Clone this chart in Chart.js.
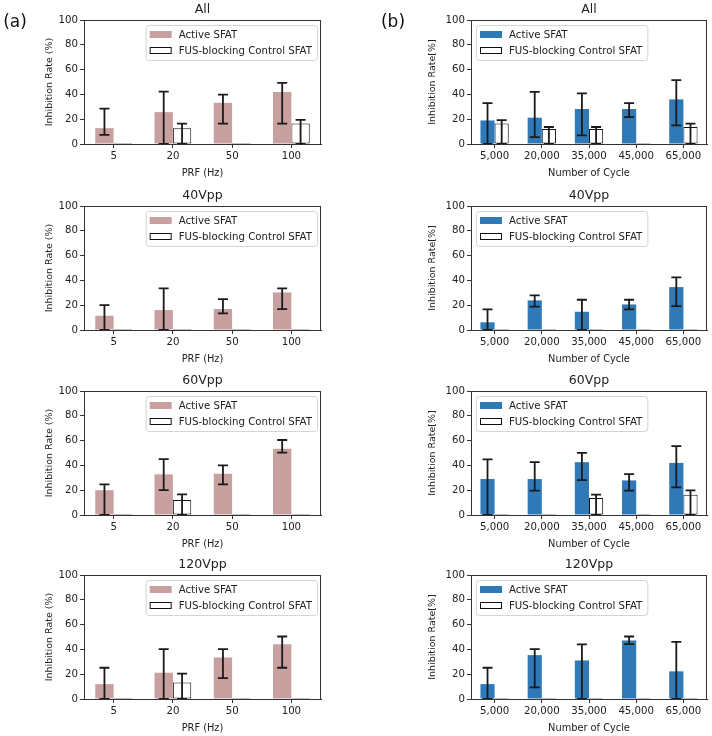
<!DOCTYPE html>
<html>
<head>
<meta charset="utf-8">
<script src="https://cdn.jsdelivr.net/npm/chart.js@4.4.0/dist/chart.umd.min.js"></script>
<style>
html, body { margin: 0; padding: 0; background: #fff; }
#wrap { position: relative; width: 712px; height: 736px; }
canvas { position: absolute; }
</style>
</head>
<body>
<div id="wrap"></div>
<script>
// categories / ticks
const prfLabels = ['5', '20', '50', '100'];
const cycleLabels = ['5,000', '20,000', '35,000', '45,000', '65,000'];
const panelTitles = ['All', '40Vpp', '60Vpp', '120Vpp'];
const yTicks = [0, 20, 40, 60, 80, 100];

// (a) PRF panels
const prfAllActive = [12.8, 25.7, 33.2, 42.0];
const prfAllActiveLo = [7.3, 0, 16.4, 16.4];
const prfAllActiveHi = [28.5, 42.3, 39.8, 49.3];
const prfAllControl = [0, 12.8, 0, 16.5];
const prfAllControlLo = [null, 0, null, 0];
const prfAllControlHi = [null, 16.4, null, 19.4];

const prf40Active = [11.5, 16.1, 16.9, 30.3];
const prf40ActiveLo = [0, 0, 13.4, 16.9];
const prf40ActiveHi = [20.1, 33.5, 24.9, 33.5];
const prf40Control = [0, 0, 0, 0];

const prf60Active = [20.0, 32.8, 33.3, 53.5];
const prf60ActiveLo = [0, 20.0, 24.7, 50.3];
const prf60ActiveHi = [24.7, 45.0, 40.0, 60.5];
const prf60Control = [0, 12.0, 0, 0];
const prf60ControlLo = [null, 0, null, null];
const prf60ControlHi = [null, 16.7, null, null];

const prf120Active = [12.0, 21.2, 33.5, 44.2];
const prf120ActiveLo = [0, 0, 16.9, 25.2];
const prf120ActiveHi = [25.2, 40.2, 40.2, 50.4];
const prf120Control = [0, 13.4, 0, 0];
const prf120ControlLo = [null, 0, null, null];
const prf120ControlHi = [null, 20.4, null, null];

// (b) cycle panels
const cycAllActive = [19.0, 21.2, 28.2, 28.2, 36.0];
const cycAllActiveLo = [0, 5.6, 7.0, 21.7, 15.0];
const cycAllActiveHi = [33.0, 42.0, 40.8, 33.0, 51.5];
const cycAllControl = [16.6, 12.0, 12.0, 0, 13.7];
const cycAllControlLo = [0, 0, 0, null, 0];
const cycAllControlHi = [19.3, 13.7, 13.7, null, 16.4];

const cyc40Active = [6.2, 23.9, 14.7, 20.6, 34.6];
const cyc40ActiveLo = [0, 18.8, 0, 16.6, 19.3];
const cyc40ActiveHi = [16.6, 27.9, 24.4, 24.4, 42.4];
const cyc40Control = [0, 0, 0, 0, 0];

const cyc60Active = [29.0, 29.0, 42.6, 27.9, 42.0];
const cyc60ActiveLo = [0, 19.6, 28.2, 19.6, 22.3];
const cyc60ActiveHi = [44.8, 42.6, 50.1, 33.0, 55.5];
const cyc60Control = [0, 0, 13.7, 0, 16.4];
const cyc60ControlLo = [null, null, 0, null, 0];
const cyc60ControlHi = [null, null, 16.4, null, 19.8];

const cyc120Active = [12.0, 35.4, 31.1, 47.2, 22.3];
const cyc120ActiveLo = [0, 9.4, 0, 44.2, 0];
const cyc120ActiveHi = [25.2, 40.2, 44.0, 50.4, 46.1];
const cyc120Control = [0, 0, 0, 0, 0];

const FONT = '"DejaVu Sans", sans-serif';
const TXT = '#222';
const rowTops = [0, 186, 371, 555];

// error bars, box frame, inside legend, panel letter
const decor = {
    id: 'decor',
    afterDatasetsDraw(chart) {
        const ctx = chart.ctx;
        const ys = chart.scales.y;
        ctx.save();
        ctx.strokeStyle = '#1a1a1a';
        ctx.lineWidth = 1.8;
        chart.data.datasets.forEach((ds, di) => {
            if (!ds.errHi) return;
            const meta = chart.getDatasetMeta(di);
            meta.data.forEach((bar, i) => {
                if (ds.errHi[i] == null) return;
                const x = bar.x;
                const yt = ys.getPixelForValue(ds.errHi[i]);
                const yb = ys.getPixelForValue(ds.errLo[i]);
                ctx.beginPath();
                ctx.moveTo(x, yt); ctx.lineTo(x, yb);
                ctx.moveTo(x - 5, yt); ctx.lineTo(x + 5, yt);
                ctx.moveTo(x - 5, yb); ctx.lineTo(x + 5, yb);
                ctx.stroke();
            });
        });
        ctx.restore();
    },
    afterDraw(chart, args, opts) {
        const ctx = chart.ctx;
        const a = chart.chartArea;
        ctx.save();
        // axes frame
        ctx.strokeStyle = '#333';
        ctx.lineWidth = 1;
        ctx.strokeRect(Math.round(a.left) + 0.5, Math.round(a.top) + 0.5,
            Math.round(a.right - a.left) - 1, Math.round(a.bottom - a.top));

        // legend
        const names = chart.data.datasets.map(d => d.label);
        ctx.font = '10.2px ' + FONT;
        const textW = Math.max(...names.map(n => ctx.measureText(n).width));
        const patchW = 22, patchH = 7;
        const boxW = 4 + patchW + 7 + textW + 5;
        const boxH = 35;
        const bx = opts.side === 'right' ? a.right - 4 - boxW : a.left + 5;
        const by = a.top + 5;
        ctx.beginPath();
        ctx.roundRect(bx + 0.5, by + 0.5, boxW, boxH, 3);
        ctx.fillStyle = 'rgba(255,255,255,0.85)';
        ctx.fill();
        ctx.strokeStyle = '#d4d4d4';
        ctx.stroke();
        names.forEach((n, i) => {
            const cy = by + 9.5 + i * 16;
            const ds = chart.data.datasets[i];
            ctx.fillStyle = ds.backgroundColor;
            ctx.fillRect(bx + 4, cy - patchH / 2, patchW, patchH);
            if (ds.borderWidth) {
                ctx.strokeStyle = '#111';
                ctx.lineWidth = 1;
                ctx.strokeRect(bx + 4.5, cy - patchH / 2 + 0.5, patchW - 1, patchH - 1);
            }
            ctx.fillStyle = TXT;
            ctx.textBaseline = 'middle';
            ctx.textAlign = 'left';
            ctx.fillText(n, bx + 4 + patchW + 7, cy + 0.5);
        });

        // panel letter
        if (opts.letter) {
            ctx.font = '17px ' + FONT;
            ctx.fillStyle = '#111';
            ctx.textAlign = 'center';
            ctx.textBaseline = 'middle';
            ctx.fillText(opts.letter, opts.letterX, 23);
        }
        ctx.restore();
    }
};

function makePanel(col, row, labels, active, activeLo, activeHi, control, controlLo, controlHi) {
    const isA = col === 0;
    const cv = document.createElement('canvas');
    cv.width = 356;
    cv.height = 180;
    cv.style.left = (col * 356) + 'px';
    cv.style.top = rowTops[row] + 'px';
    document.getElementById('wrap').appendChild(cv);

    const axisGrid = { offset: false, drawOnChartArea: false, drawTicks: true, tickLength: 4, color: '#333' };

    new Chart(cv, {
        type: 'bar',
        data: {
            labels: labels,
            datasets: [{
                label: 'Active SFAT',
                data: active,
                backgroundColor: isA ? '#c9a0a0' : '#2f79b7',
                borderWidth: 0,
                errLo: activeLo,
                errHi: activeHi
            }, {
                label: 'FUS-blocking Control SFAT',
                data: control,
                backgroundColor: '#ffffff',
                borderColor: '#111',
                borderWidth: 1,
                borderSkipped: false,
                minBarLength: 1,
                errLo: controlLo,
                errHi: controlHi
            }]
        },
        options: {
            responsive: false,
            animation: false,
            devicePixelRatio: 1,
            layout: { padding: { left: isA ? 44 : 71, right: isA ? 35 : 5, top: 0, bottom: 0 } },
            datasets: { bar: { categoryPercentage: isA ? 0.62 : 0.6, barPercentage: 1 } },
            plugins: {
                legend: { display: false },
                tooltip: { enabled: false },
                title: {
                    display: true,
                    text: panelTitles[row],
                    fullSize: false,
                    color: TXT,
                    font: { family: FONT, size: 12.5, weight: 'normal', lineHeight: 1.2 },
                    padding: { top: 2, bottom: 3 }
                },
                decor: {
                    side: isA ? 'right' : 'left',
                    letter: row === 0 ? (isA ? '(a)' : '(b)') : null,
                    letterX: isA ? 15 : 37
                }
            },
            scales: {
                x: {
                    grid: axisGrid,
                    border: { color: '#333' },
                    ticks: { color: TXT, font: { family: FONT, size: 10.2 }, padding: 2, maxRotation: 0, autoSkip: false },
                    title: {
                        display: true,
                        text: isA ? 'PRF (Hz)' : 'Number of Cycle',
                        color: TXT,
                        font: { family: FONT, size: 9.8 },
                        padding: { top: 0, bottom: 1 }
                    },
                    afterFit(s) { s.height = 36; }
                },
                y: {
                    min: 0,
                    max: 100,
                    afterBuildTicks(s) { s.ticks = yTicks.map(v => ({ value: v })); },
                    grid: axisGrid,
                    border: { color: '#333' },
                    ticks: { color: TXT, font: { family: FONT, size: 10.2 }, padding: 2 },
                    title: {
                        display: true,
                        text: isA ? 'Inhibition Rate (%)' : 'Inhibition Rate[%]',
                        color: TXT,
                        font: { family: FONT, size: 9.5 },
                        padding: 0
                    },
                    afterFit(s) { s.width = isA ? 40 : 44; }
                }
            }
        },
        plugins: [decor]
    });
}

makePanel(0, 0, prfLabels, prfAllActive, prfAllActiveLo, prfAllActiveHi, prfAllControl, prfAllControlLo, prfAllControlHi);
makePanel(0, 1, prfLabels, prf40Active, prf40ActiveLo, prf40ActiveHi, prf40Control, null, null);
makePanel(0, 2, prfLabels, prf60Active, prf60ActiveLo, prf60ActiveHi, prf60Control, prf60ControlLo, prf60ControlHi);
makePanel(0, 3, prfLabels, prf120Active, prf120ActiveLo, prf120ActiveHi, prf120Control, prf120ControlLo, prf120ControlHi);

makePanel(1, 0, cycleLabels, cycAllActive, cycAllActiveLo, cycAllActiveHi, cycAllControl, cycAllControlLo, cycAllControlHi);
makePanel(1, 1, cycleLabels, cyc40Active, cyc40ActiveLo, cyc40ActiveHi, cyc40Control, null, null);
makePanel(1, 2, cycleLabels, cyc60Active, cyc60ActiveLo, cyc60ActiveHi, cyc60Control, cyc60ControlLo, cyc60ControlHi);
makePanel(1, 3, cycleLabels, cyc120Active, cyc120ActiveLo, cyc120ActiveHi, cyc120Control, null, null);
</script>
</body>
</html>
